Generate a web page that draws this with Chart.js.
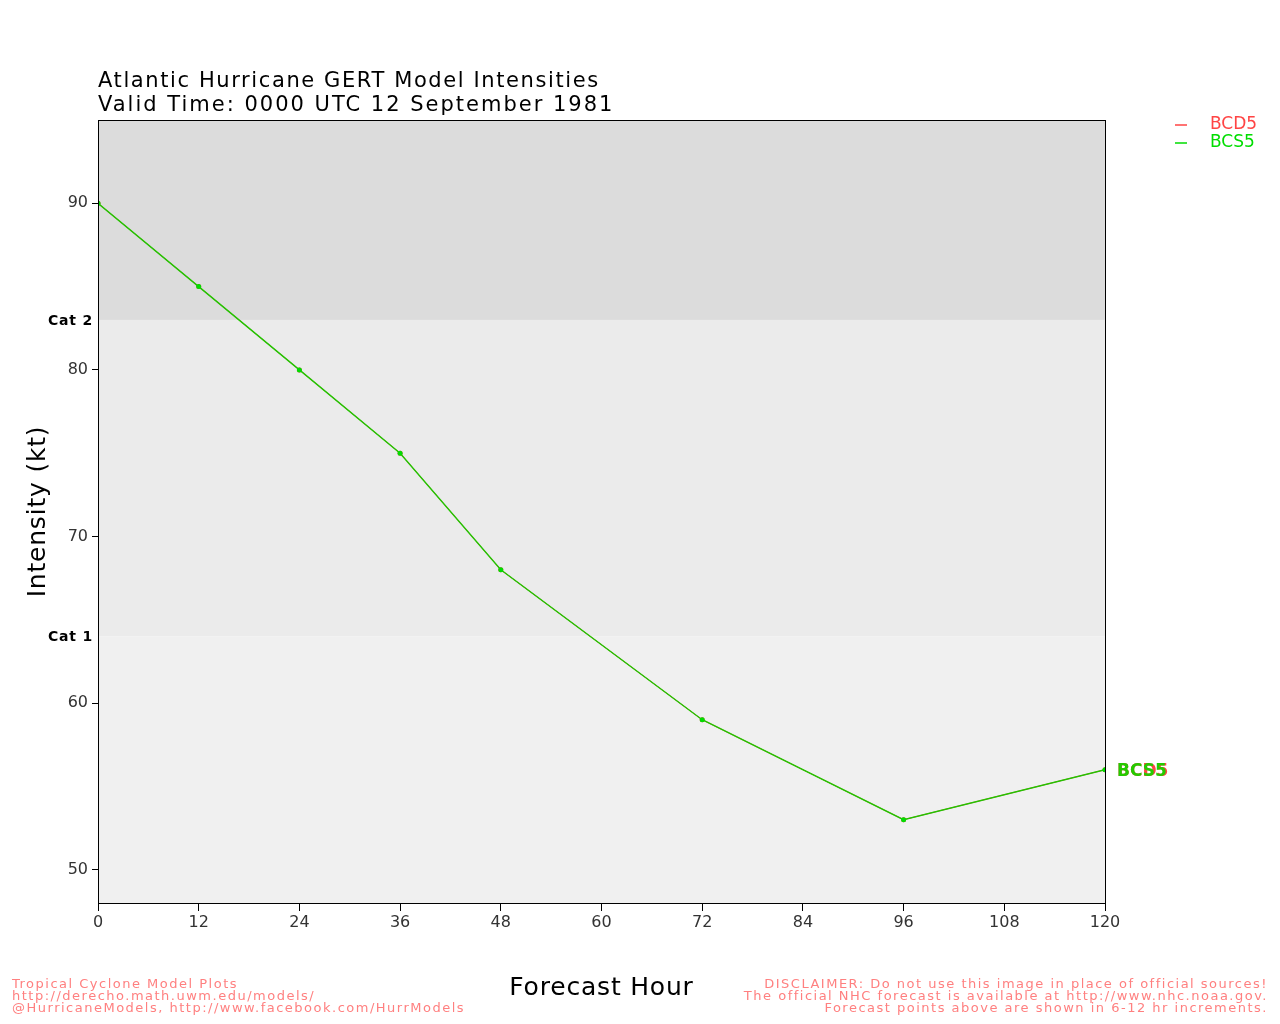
<!DOCTYPE html>
<html>
<head>
<meta charset="utf-8">
<title>GERT Model Intensities</title>
<script src="https://cdn.jsdelivr.net/npm/chart.js"></script>
<style>
  html, body { margin: 0; padding: 0; background: #fff; }
  canvas { display: block; }
</style>
</head>
<body>
<canvas id="chart" width="1280" height="1024"></canvas>
<script>
// Forecast hours and model intensities (kt)
const hours = [0, 12, 24, 36, 48, 72, 96, 120];
const bcd5 = [90, 85, 80, 75, 68, 59, 53, 56];
const bcs5 = [90, 85, 80, 75, 68, 59, 53, 56];
const xTicks = [0, 12, 24, 36, 48, 60, 72, 84, 96, 108, 120];
const yTicks = [50, 60, 70, 80, 90];
// Saffir-Simpson thresholds shown as shaded bands
const catNames = ['Cat 1', 'Cat 2'];
const catLevels = [64, 83];

const FONT = '"DejaVu Sans", sans-serif';

function toPoints(vals) {
  return hours.map((h, i) => ({ x: h, y: vals[i] }));
}

// Draws background bands, border, titles, legend and footers
const decorations = {
  id: 'decorations',
  beforeDatasetsDraw(chart) {
    const { ctx, chartArea: a, scales } = chart;
    const y = scales.y;
    const yCat1 = y.getPixelForValue(catLevels[0]);
    const yCat2 = y.getPixelForValue(catLevels[1]);
    ctx.save();
    ctx.fillStyle = '#f0f0f0';
    ctx.fillRect(a.left, yCat1, a.right - a.left, a.bottom - yCat1);
    ctx.fillStyle = '#ebebeb';
    ctx.fillRect(a.left, yCat2, a.right - a.left, yCat1 - yCat2);
    ctx.fillStyle = '#dcdcdc';
    ctx.fillRect(a.left, a.top, a.right - a.left, yCat2 - a.top);

    // category labels
    ctx.fillStyle = '#000';
    ctx.font = 'bold 14px ' + FONT;
    ctx.letterSpacing = '0.8px';
    ctx.textAlign = 'right';
    ctx.textBaseline = 'middle';
    catLevels.forEach((lvl, i) => {
      ctx.fillText(catNames[i], a.left - 5, y.getPixelForValue(lvl) + 1);
    });
    ctx.restore();
  },
  afterDraw(chart) {
    const { ctx, chartArea: a, scales } = chart;
    ctx.save();
    // plot border
    ctx.strokeStyle = '#000';
    ctx.lineWidth = 1;
    ctx.strokeRect(a.left + 0.5, a.top + 0.5, a.right - a.left, a.bottom - a.top);

    // titles
    ctx.fillStyle = '#000';
    ctx.font = '21px ' + FONT;
    ctx.letterSpacing = '1.6px';
    ctx.textAlign = 'left';
    ctx.textBaseline = 'alphabetic';
    ctx.fillText('Atlantic Hurricane GERT Model Intensities', 98, 87);
    ctx.letterSpacing = '2px';
    ctx.fillText('Valid Time: 0000 UTC 12 September 1981', 98, 111);

    // axis titles
    ctx.font = '25px ' + FONT;
    ctx.letterSpacing = '0.8px';
    ctx.textAlign = 'center';
    ctx.textBaseline = 'middle';
    ctx.fillText('Forecast Hour', (a.left + a.right) / 2, 988);
    ctx.save();
    ctx.translate(38, (a.top + a.bottom) / 2);
    ctx.rotate(-Math.PI / 2);
    ctx.fillText('Intensity (kt)', 0, 0);
    ctx.restore();

    // legend
    const legend = [['BCD5', '#ff4444'], ['BCS5', '#00dd00']];
    ctx.font = '17px ' + FONT;
    ctx.letterSpacing = '0px';
    ctx.textAlign = 'left';
    legend.forEach(([name, col], i) => {
      const ly = 125 + i * 18;
      ctx.strokeStyle = col;
      ctx.lineWidth = 1.5;
      ctx.beginPath();
      ctx.moveTo(1175, ly);
      ctx.lineTo(1187, ly);
      ctx.stroke();
      ctx.fillStyle = col;
      ctx.fillText(name, 1210, ly);
    });

    // end-of-line labels (red underneath, green on top)
    ctx.font = 'bold 17px ' + FONT;
    const last = hours.length - 1;
    [[bcd5, 'BCD5', '#ff4444'], [bcs5, 'BCS5', '#22cc00']].forEach(([vals, name, col]) => {
      ctx.fillStyle = col;
      ctx.fillText(name, scales.x.getPixelForValue(hours[last]) + 12,
        scales.y.getPixelForValue(vals[last]) + 2);
    });

    // footers
    ctx.fillStyle = '#ff8080';
    ctx.font = '13px ' + FONT;
    ctx.letterSpacing = '1.5px';
    ctx.textBaseline = 'alphabetic';
    ctx.textAlign = 'left';
    ['Tropical Cyclone Model Plots',
     'http://derecho.math.uwm.edu/models/',
     '@HurricaneModels, http://www.facebook.com/HurrModels'].forEach((t, i) => {
      ctx.fillText(t, 12, 988 + i * 12);
    });
    ctx.textAlign = 'right';
    ['DISCLAIMER: Do not use this image in place of official sources!',
     'The official NHC forecast is available at http://www.nhc.noaa.gov.',
     'Forecast points above are shown in 6-12 hr increments.'].forEach((t, i) => {
      ctx.fillText(t, 1268, 988 + i * 12);
    });
    ctx.restore();
  }
};

new Chart(document.getElementById('chart'), {
  type: 'line',
  data: {
    datasets: [
      {
        label: 'BCD5',
        data: toPoints(bcd5),
        order: 2,
        borderColor: '#ff4444',
        backgroundColor: '#ff4444',
        borderWidth: 1,
        pointRadius: 2.5,
        pointBorderWidth: 0
      },
      {
        label: 'BCS5',
        data: toPoints(bcs5),
        order: 1,
        borderColor: '#22c400',
        backgroundColor: '#00dd00',
        borderWidth: 1.4,
        pointRadius: 2.5,
        pointBorderWidth: 0
      }
    ]
  },
  options: {
    responsive: false,
    animation: false,
    layout: { padding: { left: 0, top: 120, right: 175, bottom: 0 } },
    plugins: {
      legend: { display: false },
      title: { display: false },
      tooltip: { enabled: false }
    },
    scales: {
      x: {
        type: 'linear',
        min: 0,
        max: 120,
        afterBuildTicks: s => { s.ticks = xTicks.map(v => ({ value: v })); },
        afterFit: s => { s.height = 121; },
        border: { display: false },
        grid: { drawOnChartArea: false, color: '#000', tickLength: 8 },
        ticks: { color: '#333', font: { family: FONT, size: 16 }, padding: 2, maxRotation: 0 }
      },
      y: {
        min: 48,
        max: 95,
        afterBuildTicks: s => { s.ticks = yTicks.map(v => ({ value: v })); },
        afterFit: s => { s.width = 98; },
        border: { display: false },
        grid: { drawOnChartArea: false, color: '#000', tickLength: 6 },
        ticks: { color: '#333', font: { family: FONT, size: 16 }, padding: 4 }
      }
    }
  },
  plugins: [decorations]
});
</script>
</body>
</html>
